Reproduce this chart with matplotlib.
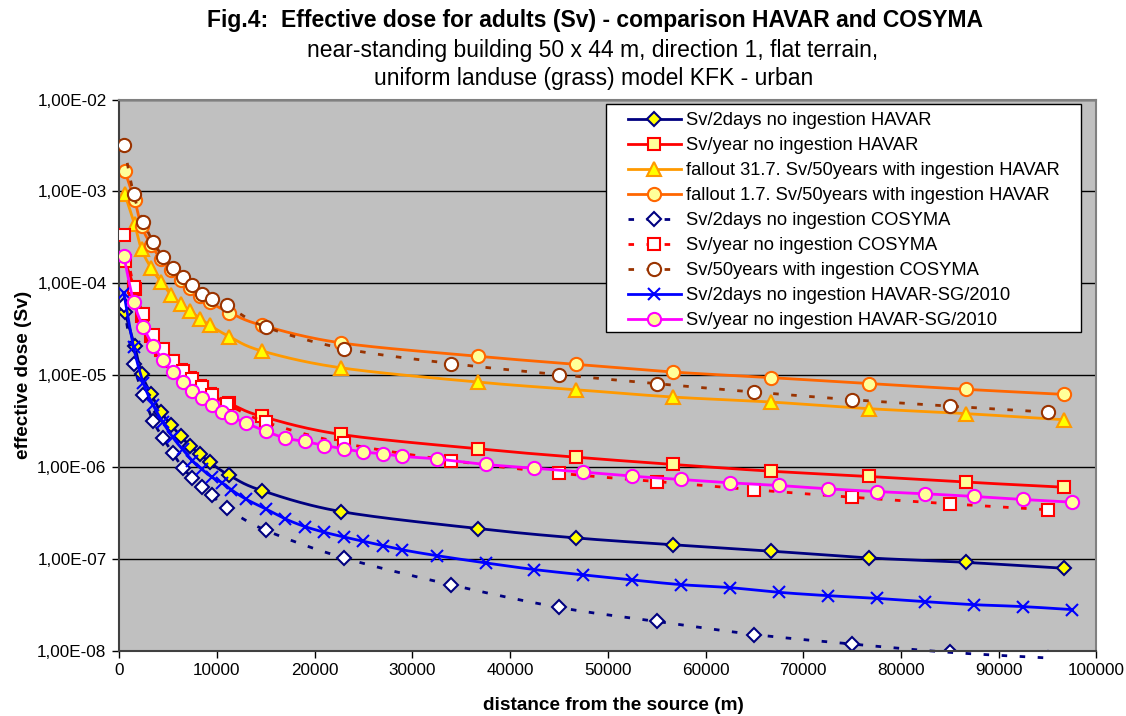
import numpy as np
import matplotlib
matplotlib.use("Agg")
import matplotlib.pyplot as plt
from matplotlib.lines import Line2D
from matplotlib.patches import Rectangle
from matplotlib.ticker import FixedLocator, FuncFormatter, NullLocator

plt.rcParams['font.family'] = ['Liberation Sans', 'DejaVu Sans']

# ---------------- data ----------------
x_havar = [600, 1600, 2300, 3300, 4300, 5300, 6300, 7300, 8300, 9300, 11300, 14600,
           22700, 36700, 46700, 56700, 66700, 76700, 86700, 96700]
havar_2days = [4.88e-5, 2.08e-5, 1.04e-5, 6.19e-6, 3.97e-6, 2.90e-6, 2.18e-6, 1.68e-6,
               1.375e-6, 1.125e-6, 8.12e-7, 5.57e-7, 3.29e-7, 2.15e-7, 1.70e-7, 1.43e-7,
               1.22e-7, 1.03e-7, 9.2e-8, 7.94e-8]
havar_year = [1.74e-4, 8.63e-5, 4.38e-5, 2.65e-5, 1.87e-5, 1.42e-5, 1.13e-5, 9.25e-6,
              7.57e-6, 6.19e-6, 4.94e-6, 3.57e-6, 2.27e-6, 1.585e-6, 1.285e-6, 1.07e-6,
              9.04e-7, 7.92e-7, 6.87e-7, 6.05e-7]
fallout_317 = [9.35e-4, 4.37e-4, 2.35e-4, 1.46e-4, 1.035e-4, 7.55e-5, 6.03e-5, 4.97e-5,
               4.14e-5, 3.50e-5, 2.63e-5, 1.84e-5, 1.205e-5, 8.43e-6, 6.97e-6, 5.79e-6,
               5.11e-6, 4.33e-6, 3.82e-6, 3.28e-6]
fallout_17 = [1.66e-3, 8.04e-4, 4.19e-4, 2.60e-4, 1.83e-4, 1.39e-4, 1.08e-4, 8.85e-5,
              7.33e-5, 6.22e-5, 4.81e-5, 3.50e-5, 2.25e-5, 1.61e-5, 1.315e-5, 1.084e-5,
              9.42e-6, 8.10e-6, 7.02e-6, 6.19e-6]

x_cosyma = [500, 1500, 2500, 3500, 4500, 5500, 6500, 7500, 8500, 9500, 11000, 15000,
            23000, 34000, 45000, 55000, 65000, 75000, 85000, 95000]
cosyma_2days = [5.77e-5, 1.34e-5, 6.04e-6, 3.17e-6, 2.08e-6, 1.42e-6, 9.85e-7, 7.66e-7,
                6.05e-7, 4.98e-7, 3.59e-7, 2.06e-7, 1.03e-7, 5.24e-8, 2.98e-8, 2.10e-8,
                1.51e-8, 1.19e-8, 9.66e-9, 8.4e-9]
cosyma_year = [3.32e-4, 9.18e-5, 4.61e-5, 2.72e-5, 1.91e-5, 1.435e-5, 1.10e-5, 9.02e-6,
               7.38e-6, 6.04e-6, 4.91e-6, 3.09e-6, 1.82e-6, 1.18e-6, 8.6e-7, 6.98e-7,
               5.67e-7, 4.71e-7, 3.99e-7, 3.44e-7]
cosyma_50y = [3.19e-3, 9.28e-4, 4.67e-4, 2.82e-4, 1.95e-4, 1.48e-4, 1.16e-4, 9.53e-5,
              7.74e-5, 6.83e-5, 5.77e-5, 3.35e-5, 1.95e-5, 1.34e-5, 1.015e-5, 8.10e-6,
              6.56e-6, 5.42e-6, 4.61e-6, 3.97e-6]

x_sg = [500, 1500, 2500, 3500, 4500, 5500, 6500, 7500, 8500, 9500, 10500, 11500, 13000,
        15000, 17000, 19000, 21000, 23000, 25000, 27000, 29000, 32500, 37500, 42500,
        47500, 52500, 57500, 62500, 67500, 72500, 77500, 82500, 87500, 92500, 97500]
sg_2days = [7.80e-5, 2.01e-5, 8.16e-6, 4.70e-6, 3.07e-6, 2.11e-6, 1.56e-6, 1.18e-6,
            9.44e-7, 7.78e-7, 6.81e-7, 5.67e-7, 4.48e-7, 3.52e-7, 2.74e-7, 2.26e-7,
            1.96e-7, 1.74e-7, 1.56e-7, 1.40e-7, 1.26e-7, 1.09e-7, 9.09e-8, 7.69e-8,
            6.73e-8, 5.93e-8, 5.27e-8, 4.89e-8, 4.35e-8, 4.00e-8, 3.74e-8, 3.44e-8,
            3.19e-8, 3.04e-8, 2.82e-8]
sg_year = [1.96e-4, 6.27e-5, 3.32e-5, 2.09e-5, 1.47e-5, 1.08e-5, 8.48e-6, 6.68e-6,
           5.60e-6, 4.76e-6, 3.97e-6, 3.52e-6, 3.01e-6, 2.47e-6, 2.07e-6, 1.905e-6,
           1.72e-6, 1.585e-6, 1.46e-6, 1.40e-6, 1.31e-6, 1.23e-6, 1.07e-6, 9.75e-7,
           8.82e-7, 7.98e-7, 7.35e-7, 6.76e-7, 6.32e-7, 5.82e-7, 5.43e-7, 5.13e-7,
           4.80e-7, 4.45e-7, 4.16e-7]

labels = ["Sv/2days no ingestion HAVAR",
          "Sv/year no ingestion HAVAR",
          "fallout 31.7. Sv/50years with ingestion HAVAR",
          "fallout 1.7. Sv/50years with ingestion HAVAR",
          "Sv/2days no ingestion COSYMA",
          "Sv/year no ingestion COSYMA",
          "Sv/50years with ingestion COSYMA",
          "Sv/2days no ingestion HAVAR-SG/2010",
          "Sv/year no ingestion HAVAR-SG/2010"]

x_ticks = list(range(0, 100001, 10000))
y_ticks = [1e-8, 1e-7, 1e-6, 1e-5, 1e-4, 1e-3, 1e-2]

# ---------------- figure ----------------
fig = plt.figure(figsize=(11.26, 7.16), dpi=100)
ax = fig.add_axes([0.1057, 0.0908, 0.8681, 0.7702])
ax.set_facecolor('#C0C0C0')
ax.set_yscale('log')
ax.set_xlim(0, 100000)
ax.set_ylim(1e-8, 1e-2)


def smooth_path(xs, ys, n=24):
    """Excel-like smoothed line (Bezier through the points) in display space."""
    pts = ax.transData.transform(np.column_stack([xs, ys]))
    P = np.vstack([pts[0], pts, pts[-1]])
    out = [pts[0]]
    t = np.linspace(0, 1, n)[1:, None]
    for i in range(1, len(P) - 2):
        p0, p1 = P[i], P[i + 1]
        c1 = p0 + (P[i + 1] - P[i - 1]) / 6.0
        c2 = p1 - (P[i + 2] - P[i]) / 6.0
        seg = ((1 - t) ** 3) * p0 + 3 * ((1 - t) ** 2) * t * c1 + 3 * (1 - t) * t ** 2 * c2 + t ** 3 * p1
        out.append(seg)
    arr = np.vstack(out)
    data = ax.transData.inverted().transform(arr)
    return data[:, 0], data[:, 1]


dash = (0, (2.0, 4.5))
lw = 2.0
series = [
    (x_havar, havar_2days, dict(color='#000080', ls='-', marker='D', ms=7.5, mfc='#FFFF00', mec='#000080')),
    (x_havar, havar_year, dict(color='#FF0000', ls='-', marker='s', ms=9, mfc='#FFFF99', mec='#FF0000')),
    (x_havar, fallout_317, dict(color='#FF9900', ls='-', marker='^', ms=9.5, mfc='#FFFF00', mec='#FF9900')),
    (x_havar, fallout_17, dict(color='#FF6600', ls='-', marker='o', ms=9.5, mfc='#FFFF99', mec='#FF6600')),
    (x_cosyma, cosyma_2days, dict(color='#000080', ls=dash, marker='D', ms=7.5, mfc='white', mec='#000080')),
    (x_cosyma, cosyma_year, dict(color='#FF0000', ls=dash, marker='s', ms=9, mfc='white', mec='#FF0000')),
    (x_cosyma, cosyma_50y, dict(color='#993300', ls=dash, marker='o', ms=9.5, mfc='white', mec='#993300')),
    (x_sg, sg_2days, dict(color='#0000FF', ls='-', marker='x', ms=8, mfc='#0000FF', mec='#0000FF')),
    (x_sg, sg_year, dict(color='#FF00FF', ls='-', marker='o', ms=9.5, mfc='#FFFF99', mec='#FF00FF')),
]
handles = []
for k, ((xs, ys, st), lab) in enumerate(zip(series, labels)):
    sx, sy = smooth_path(xs, ys)
    # lines may run slightly past the plot bottom edge, as in the original chart
    ax.plot(sx, sy, color=st['color'], ls=st['ls'], lw=lw, zorder=2 + 0.1 * k,
            clip_on=(min(ys) >= 1e-8))
    ax.plot(xs, ys, ls='none', marker=st['marker'], ms=st['ms'], mfc=st['mfc'],
            mec=st['mec'], mew=1.5, zorder=2.05 + 0.1 * k)
    handles.append(Line2D([], [], lw=lw, mew=1.5, **st))

ax.yaxis.set_major_locator(FixedLocator(y_ticks))
ax.yaxis.set_minor_locator(NullLocator())
ax.yaxis.set_major_formatter(FuncFormatter(lambda v, p: f"{v:.2E}".replace('.', ',')))
ax.xaxis.set_major_locator(FixedLocator(x_ticks))
ax.xaxis.set_major_formatter(FuncFormatter(lambda v, p: f"{int(round(v))}"))
ax.grid(True, axis='y', color='black', lw=1.0)
ax.set_axisbelow(True)
ax.tick_params(axis='both', direction='out', length=5, width=1, labelsize=12.3,
               colors='black', pad=4)

for s in ['left', 'bottom']:
    ax.spines[s].set_color('#404040')
    ax.spines[s].set_linewidth(1.5)
for s in ['top', 'right']:
    ax.spines[s].set_color('#808080')
    ax.spines[s].set_linewidth(1.5)

ax.set_xlabel('distance from the source (m)', fontsize=13.7, fontweight='bold')
ax.set_ylabel('effective dose (Sv)', fontsize=13.7, fontweight='bold')
ax.xaxis.set_label_coords(0.506, -0.0997)
ax.xaxis.label.set_verticalalignment('center')
ax.yaxis.set_label_coords(-0.098, 0.5)
ax.yaxis.label.set_verticalalignment('center')

fig.text(0.5285, 0.9707, 'Fig.4:  Effective dose for adults (Sv) - comparison HAVAR and COSYMA',
         ha='center', va='center', fontsize=16.5, fontweight='bold')
fig.text(0.5265, 0.930, 'near-standing building 50 x 44 m, direction 1, flat terrain,',
         ha='center', va='center', fontsize=16.5)
fig.text(0.5275, 0.891, 'uniform landuse (grass) model KFK - urban',
         ha='center', va='center', fontsize=16.5)

# legend box
ax.add_patch(Rectangle((0.4982, 0.5785), 0.4863, 0.4137, transform=ax.transAxes,
                       facecolor='white', edgecolor='black', lw=1.0, zorder=4.5))
leg = ax.legend(handles, labels, loc='upper left', bbox_to_anchor=(0.521, 0.977),
                fontsize=13.2, frameon=False, handlelength=2.85, handletextpad=0.28,
                labelspacing=0.435, borderpad=0.0, borderaxespad=0.0)
leg.set_zorder(5)

fig.savefig('out.png', dpi=100, facecolor='white')
